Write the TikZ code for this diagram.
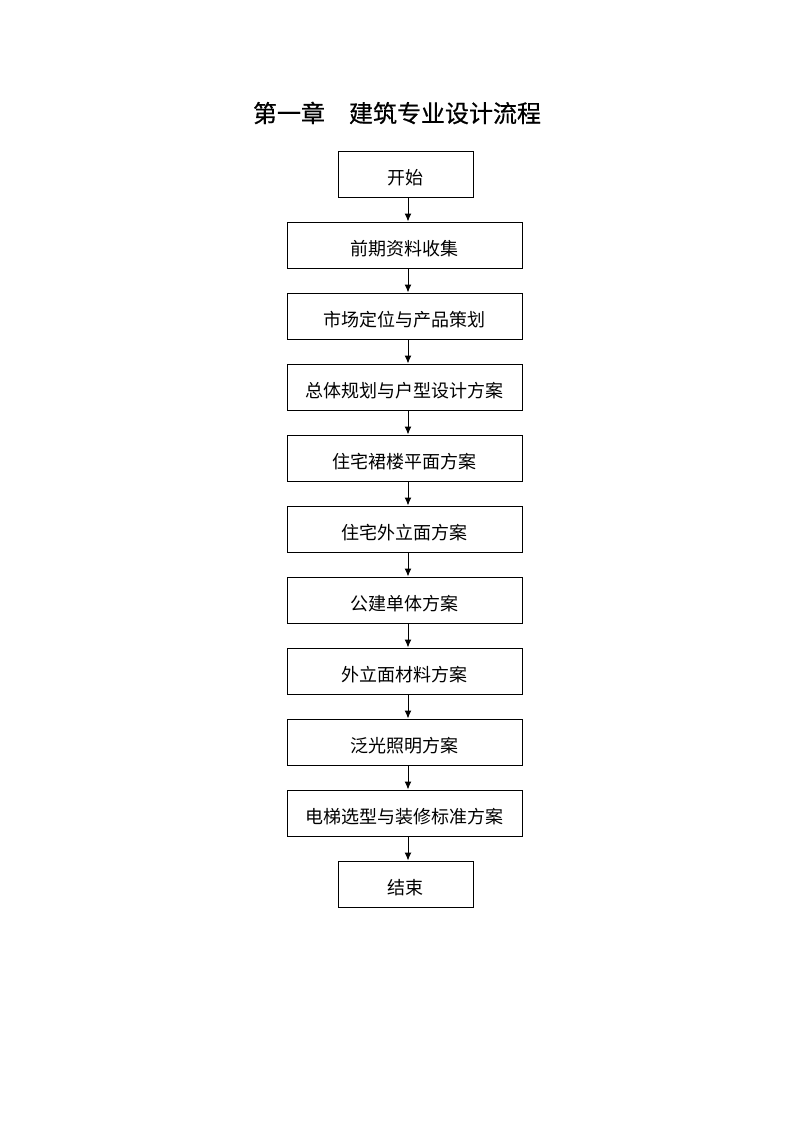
\documentclass[tikz,border=0pt]{standalone}
\usepackage{fontspec}
\newfontfamily\cjk{Noto Sans CJK SC}
\newfontfamily\cjktitle[FakeBold=0.6]{Noto Sans CJK SC}
\usetikzlibrary{arrows.meta}
\begin{document}
\begin{tikzpicture}[x=1pt,y=-1pt,
  wide/.style={draw, line width=1pt, minimum width=235pt, minimum height=46pt, inner sep=0pt, text height=22pt, text depth=2pt, font=\cjk\fontsize{18}{18}\selectfont},
  narrow/.style={wide, minimum width=135pt},
  flow/.style={draw, line width=1pt, -{Latex[length=8pt,width=7pt]}}]
\useasboundingbox (0,0) rectangle (793,1122);
\node[font=\cjktitle\fontsize{24}{24}\selectfont] (title) at (397,113) {第一章　建筑专业设计流程};
\node[narrow] (n0) at (405.5,174) {开始};
\node[wide] (n1) at (404.5,245) {前期资料收集};
\node[wide] (n2) at (404.5,316) {市场定位与产品策划};
\node[wide] (n3) at (404.5,387) {总体规划与户型设计方案};
\node[wide] (n4) at (404.5,458) {住宅裙楼平面方案};
\node[wide] (n5) at (404.5,529) {住宅外立面方案};
\node[wide] (n6) at (404.5,600) {公建单体方案};
\node[wide] (n7) at (404.5,671) {外立面材料方案};
\node[wide] (n8) at (404.5,742) {泛光照明方案};
\node[wide] (n9) at (404.5,813) {电梯选型与装修标准方案};
\node[narrow] (n10) at (405.5,884) {结束};
\foreach \a/\b in {n0/n1,n1/n2,n2/n3,n3/n4,n4/n5,n5/n6,n6/n7,n7/n8,n8/n9,n9/n10}{
  \draw[flow] (408,0 |- \a.south) -- (408,0 |- \b.north);
}
\end{tikzpicture}
\end{document}
